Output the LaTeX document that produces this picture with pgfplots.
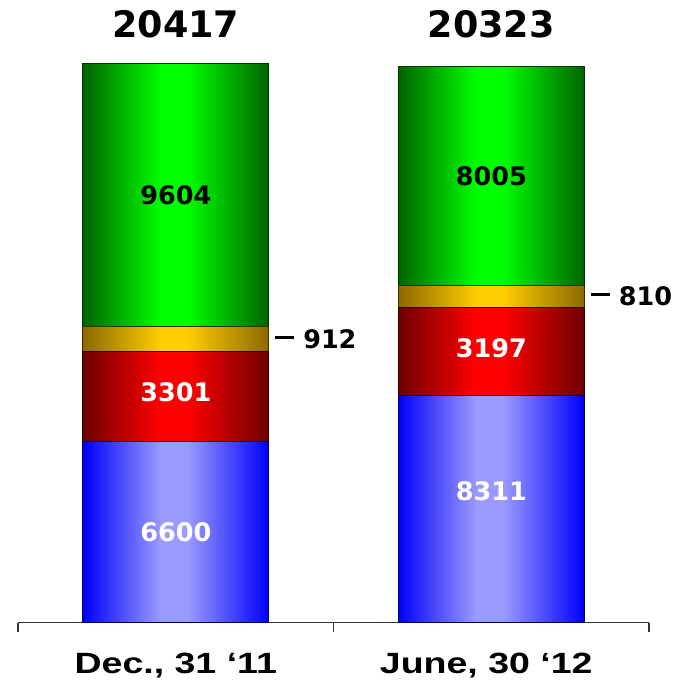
\documentclass[border=0pt]{standalone}
\usepackage{graphicx}
\usepackage{pgfplots}
\pgfplotsset{compat=1.18}
\usepackage{fontspec}
\newfontfamily\dvfont{DejaVu Sans}
\newfontfamily\libfont{Liberation Sans}
\definecolor{gEdge}{RGB}{0,100,0}
\definecolor{gMid}{RGB}{0,255,0}
\definecolor{gLine}{RGB}{0,55,0}
\definecolor{yEdge}{RGB}{140,105,0}
\definecolor{yMid}{RGB}{255,205,0}
\definecolor{yLine}{RGB}{60,45,0}
\definecolor{rEdge}{RGB}{110,0,0}
\definecolor{rMid}{RGB}{255,0,0}
\definecolor{rLine}{RGB}{55,0,0}
\definecolor{bEdge}{RGB}{0,0,250}
\definecolor{bMid}{RGB}{155,155,255}
\definecolor{bLine}{RGB}{0,0,90}
\pgfdeclarehorizontalshading{greenbar}{100bp}{color(0bp)=(gEdge); color(25bp)=(gEdge); color(46bp)=(gMid); color(53bp)=(gMid); color(75bp)=(gEdge); color(100bp)=(gEdge)}
\pgfdeclarehorizontalshading{goldbar}{100bp}{color(0bp)=(yEdge); color(25bp)=(yEdge); color(46bp)=(yMid); color(53bp)=(yMid); color(75bp)=(yEdge); color(100bp)=(yEdge)}
\pgfdeclarehorizontalshading{redbar}{100bp}{color(0bp)=(rEdge); color(25bp)=(rEdge); color(46bp)=(rMid); color(53bp)=(rMid); color(75bp)=(rEdge); color(100bp)=(rEdge)}
\pgfdeclarehorizontalshading{bluebar}{100bp}{color(0bp)=(bEdge); color(25bp)=(bEdge); color(46bp)=(bMid); color(53bp)=(bMid); color(75bp)=(bEdge); color(100bp)=(bEdge)}
\newcommand{\segfont}{\dvfont\bfseries\fontsize{25.5}{28}\selectfont}
\newcommand{\totfont}{\dvfont\bfseries\fontsize{36.5}{40}\selectfont}
\newcommand{\catfont}{\libfont\bfseries\fontsize{29.3}{32}\selectfont}
\pgfplotsset{
  base/.style={
    at={(18pt,60.3pt)}, anchor=south west,
    scale only axis, width=631pt, height=602.4pt,
    xmin=0, xmax=2, ymin=0, ymax=22000,
    ybar stacked, bar width=186pt, clip=false,
    axis y line=none, ytick=\empty,
    visualization depends on={rawy \as \rawy},
    nodes near coords={\pgfmathprintnumber[fixed,precision=0,1000 sep={},assume math mode=true]{\rawy}},
    every node near coord/.style={anchor=center, inner sep=0pt, font=\segfont, text=black},
  },
  seg/.style={draw=#1, line width=1pt, shade},
  side/.style={nodes near coords={\rule[9.5pt]{19pt}{3pt}\hspace{9pt}\pgfmathprintnumber[fixed,precision=0,1000 sep={},assume math mode=true]{\rawy}},
    every node near coord/.append style={anchor=west, xshift=99pt}},
}
\begin{document}
\begin{tikzpicture}
\begin{axis}[base,
  axis x line*=bottom, xtick={0,1,2}, xticklabels={,,},
  tick align=outside, major tick length=9.5pt,
  x axis line style={black!80, line width=1.4pt},
  xtick style={black!80, line width=1.2pt}]
\addplot[seg=bLine, shading=bluebar, every node near coord/.append style={text=white}] coordinates {(0.5,6600)};
\addplot[seg=rLine, shading=redbar, every node near coord/.append style={text=white, yshift=5pt}] coordinates {(0.5,3301)};
\addplot[seg=yLine, shading=goldbar, side] coordinates {(0.5,912)};
\addplot[seg=gLine, shading=greenbar] coordinates {(0.5,9604)};
\node[anchor=base, font=\totfont] at ([yshift=26pt]axis cs:0.5,20417) {20417};
\node[anchor=base, font=\catfont] at ([yshift=-51pt]axis cs:0.5,0) {\scalebox{1.28}[1]{Dec., 31 ‘11}};
\end{axis}
\begin{axis}[base, hide axis]
\addplot[seg=bLine, shading=bluebar, every node near coord/.append style={text=white, yshift=18pt}] coordinates {(1.5,8311)};
\addplot[seg=rLine, shading=redbar, every node near coord/.append style={text=white, yshift=3pt}] coordinates {(1.5,3197)};
\addplot[seg=yLine, shading=goldbar, side] coordinates {(1.5,810)};
\addplot[seg=gLine, shading=greenbar] coordinates {(1.5,8005)};
\node[anchor=base, font=\totfont] at ([yshift=29pt]axis cs:1.5,20323) {20323};
\node[anchor=base, font=\catfont] at ([yshift=-51pt,xshift=-5pt]axis cs:1.5,0) {\scalebox{1.28}[1]{June, 30 ‘12}};
\end{axis}
\pgfresetboundingbox
\path[use as bounding box] (0,0) rectangle (682pt,683pt);
\end{tikzpicture}
\end{document}
